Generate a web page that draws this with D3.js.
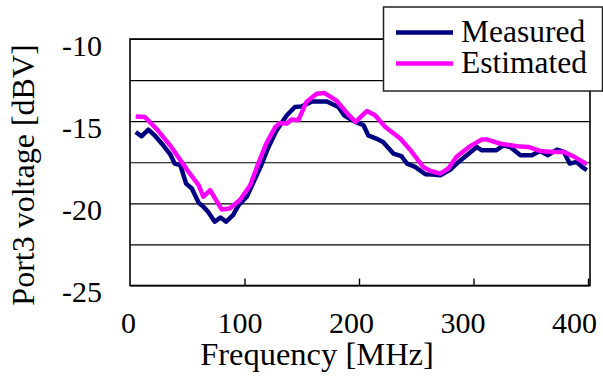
<!DOCTYPE html>
<html>
<head>
<meta charset="utf-8">
<script src="https://cdn.jsdelivr.net/npm/d3@7"></script>
<style>
  html, body { margin: 0; padding: 0; background: #fff; }
  svg { display: block; }
  svg text { font-family: "Liberation Serif", "Times New Roman", Tinos, serif; fill: #000; }
</style>
</head>
<body>
<svg id="chart" width="603" height="383"></svg>
<script>
// ---- data ----
const measuredFreq = [5, 10, 16, 22, 29, 35, 39, 44, 49, 54, 60, 64, 68, 74, 79, 84, 90, 95, 102, 108, 114, 121, 128, 137, 144, 150, 159, 172, 182, 187, 192, 198, 204, 208, 215, 221, 230, 237, 242, 249, 258, 264, 271, 280, 287, 296, 303, 307, 313, 320, 326, 332, 341, 351, 358, 365, 373, 379, 384, 390, 395, 399];
const measuredVolt = [-15.66, -15.92, -15.51, -15.9, -16.47, -17.0, -17.58, -17.68, -18.8, -19.1, -19.97, -20.2, -20.5, -21.12, -20.86, -21.12, -20.72, -20.1, -19.6, -18.69, -17.78, -16.57, -15.56, -14.64, -14.14, -14.1, -13.8, -13.8, -14.14, -14.64, -14.85, -15.08, -15.25, -15.86, -16.06, -16.27, -16.97, -17.13, -17.58, -17.78, -18.23, -18.25, -18.29, -17.94, -17.48, -16.97, -16.57, -16.77, -16.77, -16.77, -16.47, -16.57, -17.07, -17.07, -16.81, -17.07, -16.73, -16.87, -17.58, -17.48, -17.8, -17.98];

const estimatedFreq = [5, 13, 23, 35, 50, 60, 64, 70, 80, 87, 96, 105, 112, 119, 127, 131, 137, 141, 147, 154, 163, 170, 180, 190, 197, 207, 214, 223, 236, 245, 256, 262, 271, 278, 285, 296, 307, 312, 323, 338, 348, 358, 370, 379, 387, 399];
const estimatedVolt = [-14.71, -14.75, -15.45, -16.47, -17.98, -18.9, -19.6, -19.2, -20.37, -20.31, -19.8, -18.9, -17.58, -16.36, -15.35, -15.11, -15.15, -14.9, -14.95, -13.84, -13.33, -13.29, -13.73, -14.54, -15.05, -14.38, -14.64, -15.35, -16.06, -16.77, -17.78, -18.02, -18.19, -17.88, -17.18, -16.57, -16.12, -16.12, -16.36, -16.53, -16.57, -16.81, -16.87, -16.87, -17.13, -17.62];

const xTickLabels = [0, 100, 200, 300, 400];
const xTickMarks = [100, 200, 300, 400];
const yTickLabels = [-10, -15, -20, -25];
const yGridValues = [-10, -12.5, -15, -17.5, -20, -22.5, -25];
const seriesNames = ["Measured", "Estimated"];
const seriesColors = ["#000080", "#FF00FF"];

// ---- layout ----
const FONT = "'Liberation Serif', 'Times New Roman', Tinos, serif";
const svg = d3.select("#chart");
const plotL = 130, plotR = 590, plotT = 39, plotB = 285.5;

const x = d3.scaleLinear().domain([0, 400]).range([130, 588]);
const xLabel = d3.scaleLinear().domain([0, 400]).range([128, 574]);
const y = d3.scaleLinear().domain([-25, -10]).range([plotB, plotT]);

// gridlines
const grid = svg.append("g").attr("transform", `translate(${plotL},0)`)
  .call(d3.axisLeft(y).tickValues(yGridValues).tickSize(-(plotR - plotL)).tickFormat(""));
grid.select(".domain").remove();
grid.selectAll("line").attr("stroke", "#000").attr("stroke-width", 1.2);

// frame
svg.append("rect")
  .attr("x", plotL).attr("y", plotT)
  .attr("width", plotR - plotL).attr("height", plotB - plotT)
  .attr("fill", "none").attr("stroke", "#000").attr("stroke-width", 1.6);

// x tick marks (upward, inside)
const xt = svg.append("g").attr("transform", `translate(0,${plotB})`)
  .call(d3.axisBottom(x).tickValues(xTickMarks).tickSize(-7).tickFormat(""));
xt.select(".domain").remove();
xt.selectAll("line").attr("stroke", "#000").attr("stroke-width", 1.4);

// x tick labels
const xl = svg.append("g").attr("transform", `translate(0,${plotB})`)
  .call(d3.axisBottom(xLabel).tickValues(xTickLabels).tickSize(0).tickFormat(d => String(d)));
xl.attr("font-family", FONT).attr("font-size", 30);
xl.select(".domain").remove();
xl.selectAll("text").attr("y", 333 - plotB).attr("dy", 0)
  .style("font-family", FONT).style("font-size", "30px");

// y tick labels
const yl = svg.append("g").attr("transform", `translate(${plotL},0)`)
  .call(d3.axisLeft(y).tickValues(yTickLabels).tickSize(0).tickFormat(d => String(d)));
yl.attr("font-family", FONT).attr("font-size", 30);
yl.select(".domain").remove();
yl.selectAll("text").attr("x", 102 - plotL).attr("dy", 0).attr("y", 16)
  .style("font-family", FONT).style("font-size", "30px");

// axis titles
svg.append("text")
  .attr("x", 317).attr("y", 365)
  .attr("text-anchor", "middle")
  .style("font-size", "32.5px")
  .text("Frequency [MHz]");

svg.append("text")
  .attr("transform", "translate(34,175) rotate(-90)")
  .attr("text-anchor", "middle")
  .style("font-size", "32px")
  .text("Port3 voltage [dBV]");

// lines
const line = d3.line().x(d => x(d[0])).y(d => y(d[1]));
const measured = measuredFreq.map((f, i) => [f, measuredVolt[i]]);
const estimated = estimatedFreq.map((f, i) => [f, estimatedVolt[i]]);

svg.append("path").datum(measured)
  .attr("d", line).attr("fill", "none")
  .attr("stroke", seriesColors[0]).attr("stroke-width", 4.5)
  .attr("stroke-linejoin", "round");
svg.append("path").datum(estimated)
  .attr("d", line).attr("fill", "none")
  .attr("stroke", seriesColors[1]).attr("stroke-width", 4.5)
  .attr("stroke-linejoin", "round");

// legend
const lg = svg.append("g");
lg.append("rect")
  .attr("x", 383.5).attr("y", 7).attr("width", 219).attr("height", 84)
  .attr("fill", "#fff").attr("stroke", "#222").attr("stroke-width", 1.5);
const legendY = [32.5, 63.5];
seriesNames.forEach((name, i) => {
  lg.append("line")
    .attr("x1", 396).attr("x2", 453)
    .attr("y1", legendY[i]).attr("y2", legendY[i])
    .attr("stroke", seriesColors[i]).attr("stroke-width", 4.5);
  lg.append("text")
    .attr("x", 461).attr("y", legendY[i] + 9)
    .style("font-size", "31.5px")
    .text(name);
});
</script>
</body>
</html>
